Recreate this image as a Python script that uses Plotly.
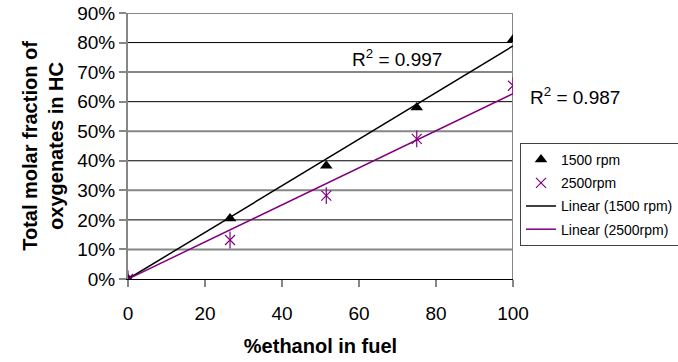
import numpy as np
import plotly.graph_objects as go

# % ethanol in the fuel blend
ethanol = [0, 26.5, 51.5, 75, 100]
# total molar fraction of oxygenates in HC
rpm1500 = [0.0, 0.205, 0.383, 0.58, 0.81]
rpm2500 = [0.0, 0.132, 0.282, 0.474, 0.654]
r2_labels = ["R<sup>2</sup> = 0.997", "R<sup>2</sup> = 0.987"]
y_ticks = [0, 0.1, 0.2, 0.3, 0.4, 0.5, 0.6, 0.7, 0.8, 0.9]
x_ticks = [0, 20, 40, 60, 80, 100]

PURPLE = "#800080"
GRAY = "#868686"
FONT = "Liberation Sans, Arial, sans-serif"

ML, MR, MT, MB = 128, 165, 13, 83
W, H = 678, 362


def fit_through_origin(x, y):
    x = np.asarray(x, float)
    y = np.asarray(y, float)
    return float((x * y).sum() / (x * x).sum())


def px_to_paper(px, py):
    return (px - ML) / (W - ML - MR), 1 - (py - MT) / (H - MT - MB)


k1 = fit_through_origin(ethanol, rpm1500)
k2 = fit_through_origin(ethanol, rpm2500)
xl = np.array([0, 100])

fig = go.Figure()
fig.add_trace(go.Scatter(
    x=ethanol, y=rpm1500, mode="markers", name="1500 rpm", legendgroup="a",
    marker=dict(symbol="triangle-up", size=11, color="black"),
))
# six-armed star marker: an x with a vertical stroke through it
fig.add_trace(go.Scatter(
    x=ethanol, y=rpm2500, mode="markers", name="2500rpm", legendgroup="b",
    marker=dict(symbol="x-thin-open", size=10, color=PURPLE,
                line=dict(color=PURPLE, width=1.2)),
))
fig.add_trace(go.Scatter(
    x=ethanol, y=rpm2500, mode="markers", name="2500rpm", legendgroup="b",
    showlegend=False, hoverinfo="skip",
    marker=dict(symbol="line-ns-open", size=12, color=PURPLE,
                line=dict(color=PURPLE, width=1.2)),
))
fig.add_trace(go.Scatter(
    x=xl, y=k1 * xl, mode="lines", name="Linear (1500 rpm)", legendgroup="c",
    line=dict(color="black", width=1.5),
))
fig.add_trace(go.Scatter(
    x=xl, y=k2 * xl, mode="lines", name="Linear (2500rpm)", legendgroup="d",
    line=dict(color=PURPLE, width=1.5),
))

# horizontal gridlines: grey at odd tens, thin black at even tens
shapes = []
for i, v in enumerate(y_ticks[1:], start=1):
    odd = i % 2 == 1
    shapes.append(dict(
        type="line", xref="x", yref="y", x0=0, x1=100, y0=v, y1=v,
        line=dict(color=GRAY if odd else "black", width=2 if odd else 1),
        layer="below",
    ))
# right border of the plot area
shapes.append(dict(
    type="line", xref="x", yref="y", x0=100, x1=100, y0=0, y1=0.9,
    line=dict(color=GRAY, width=2), layer="below",
))

a1x, a1y = px_to_paper(350, 58)
a2x, a2y = px_to_paper(528, 96)

fig.update_layout(
    width=W, height=H,
    margin=dict(l=ML, r=MR, t=MT, b=MB),
    paper_bgcolor="white", plot_bgcolor="white",
    font=dict(family=FONT, size=19, color="black"),
    shapes=shapes,
    showlegend=True,
    legend=dict(
        x=520 / W, y=1 - 143 / H, xref="container", yref="container",
        xanchor="left", yanchor="top",
        bgcolor="white", bordercolor="#404040", borderwidth=1,
        font=dict(size=14, family=FONT),
        tracegroupgap=2, itemwidth=30,
    ),
    xaxis=dict(
        range=[0, 100], tickvals=x_ticks, showgrid=False, zeroline=False,
        showline=True, linecolor="black", linewidth=1, automargin=False,
        ticks="outside", ticklen=7, tickcolor=GRAY, tickwidth=2,
        tickfont=dict(size=19), ticklabelstandoff=10,
        title=dict(text="<b>%ethanol in fuel</b>", font=dict(size=20), standoff=16),
    ),
    yaxis=dict(
        range=[0, 0.9], tickvals=y_ticks, tickformat=".0%", showgrid=False,
        zeroline=False, showline=True, linecolor=GRAY, linewidth=2,
        automargin=False,
        ticks="outside", ticklen=7, tickcolor=GRAY, tickwidth=2,
        tickfont=dict(size=19),
        title=dict(text="<b>Total molar fraction of<br>oxygenates in HC</b>",
                   font=dict(size=20), standoff=8),
    ),
    annotations=[
        dict(x=a1x, y=a1y, xref="paper", yref="paper", text=r2_labels[0],
             showarrow=False, xanchor="left", yanchor="middle", font=dict(size=19)),
        dict(x=a2x, y=a2y, xref="paper", yref="paper", text=r2_labels[1],
             showarrow=False, xanchor="left", yanchor="middle", font=dict(size=19)),
    ],
)

fig.write_html("out.html")
